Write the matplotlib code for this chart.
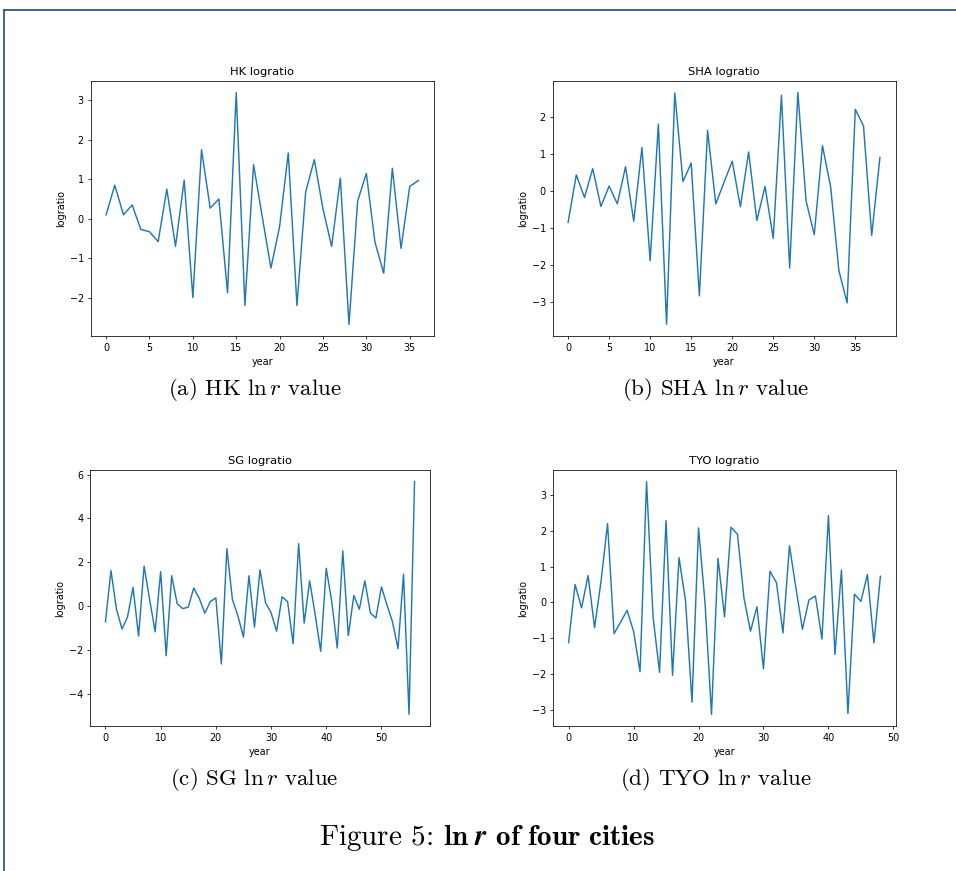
import numpy as np
import matplotlib
matplotlib.use("Agg")
import matplotlib.pyplot as plt
from matplotlib.lines import Line2D

# log ratio per city (x = year index)
hk = [0.1, 0.85, 0.1, 0.35, -0.27, -0.33, -0.58, 0.75, -0.7, 0.98,
      -2.0, 1.75, 0.27, 0.5, -1.88, 3.2, -2.2, 1.37, 0.05, -1.25,
      -0.2, 1.67, -2.2, 0.67, 1.5, 0.25, -0.7, 1.03, -2.68, 0.45,
      1.15, -0.6, -1.38, 1.28, -0.75, 0.82, 0.97]
sha = [-0.85, 0.43, -0.18, 0.6, -0.42, 0.13, -0.35, 0.65, -0.82, 1.17,
       -1.88, 1.8, -3.6, 2.64, 0.25, 0.75, -2.83, 1.63, -0.35, 0.23,
       0.8, -0.43, 1.05, -0.8, 0.12, -1.28, 2.58, -2.08, 2.65, -0.27,
       -1.18, 1.22, 0.1, -2.15, -3.02, 2.2, 1.75, -1.2, 0.9]
sg = [-0.72, 1.62, -0.15, -1.05, -0.5, 0.85, -1.37, 1.82, 0.3, -1.18,
      1.57, -2.27, 1.38, 0.1, -0.12, -0.05, 0.82, 0.35, -0.33, 0.2,
      0.37, -2.65, 2.62, 0.3, -0.45, -1.42, 1.38, -0.97, 1.65, 0.15,
      -0.3, -1.15, 0.42, 0.2, -1.72, 2.85, -0.78, 1.15, -0.4, -2.07,
      1.72, 0.2, -1.92, 2.52, -1.35, 0.48, -0.15, 1.15, -0.32, -0.55,
      0.87, 0.05, -0.72, -1.95, 1.45, -4.95, 5.68]
tyo = [-1.12, 0.5, -0.15, 0.75, -0.7, 0.6, 2.2, -0.87, -0.55, -0.22,
       -0.8, -1.93, 3.37, -0.4, -1.95, 2.28, -2.03, 1.25, 0.05, -2.78,
       2.08, 0.0, -3.12, 1.23, -0.4, 2.1, 1.9, 0.12, -0.8, -0.12,
       -1.85, 0.87, 0.55, -0.85, 1.58, 0.4, -0.75, 0.07, 0.18, -1.02,
       2.42, -1.45, 0.9, -3.1, 0.23, 0.03, 0.78, -1.13, 0.73]

cities = ["HK", "SHA", "SG", "TYO"]
series = [hk, sha, sg, tyo]
letters = ["a", "b", "c", "d"]

W, H = 956, 871
# axes boxes in pixels: left, top, right, bottom
boxes = [(90.5, 81, 434, 336), (552.5, 81, 895.5, 336),
         (90, 470, 430, 726), (553, 470, 896, 726)]
captions_xy = [(255, 389), (716, 389), (254, 779), (716, 779)]

s = 0.69  # the subfigures were shrunk from default size
plt.rcParams.update({
    "font.size": 10 * s,
    "axes.linewidth": 0.8 * s,
    "xtick.major.width": 0.8 * s,
    "ytick.major.width": 0.8 * s,
    "xtick.major.size": 3.5 * s,
    "ytick.major.size": 3.5 * s,
    "xtick.major.pad": 3.5 * s,
    "ytick.major.pad": 3.5 * s,
    "axes.titlepad": 6 * s,
    "axes.labelpad": 4 * s,
    "mathtext.fontset": "cm",
})

fig = plt.figure(figsize=(W / 100, H / 100), dpi=100)

for city, vals, (l, t, r, b) in zip(cities, series, boxes):
    ax = fig.add_axes([l / W, 1 - b / H, (r - l) / W, (b - t) / H])
    ax.plot(np.arange(len(vals)), vals, color="tab:blue", lw=1.5 * s)
    ax.set_title(city + " logratio", fontsize=12 * s)
    ax.set_xlabel("year")
    ax.set_ylabel("logratio")

for letter, city, (x, y) in zip(letters, cities, captions_xy):
    fig.text(x / W, 1 - y / H, "(%s) %s $\\ln r$ value" % (letter, city),
             family="cmr10", fontsize=16.5, ha="center", va="center")

fig.text(487 / W, 1 - 838 / H,
         r"Figure 5: $\mathbf{ln}\;\boldsymbol{r}$ $\mathbf{of\ four\ cities}$",
         family="cmr10", fontsize=21, ha="center", va="center")

# page frame
frame = "#1d4a7c"
fig.add_artist(Line2D([4 / W, 1], [1 - 10 / H] * 2, color=frame, lw=1.2))
fig.add_artist(Line2D([4 / W] * 2, [0, 1 - 10 / H], color=frame, lw=1.2))

fig.savefig("out.png", dpi=100)
